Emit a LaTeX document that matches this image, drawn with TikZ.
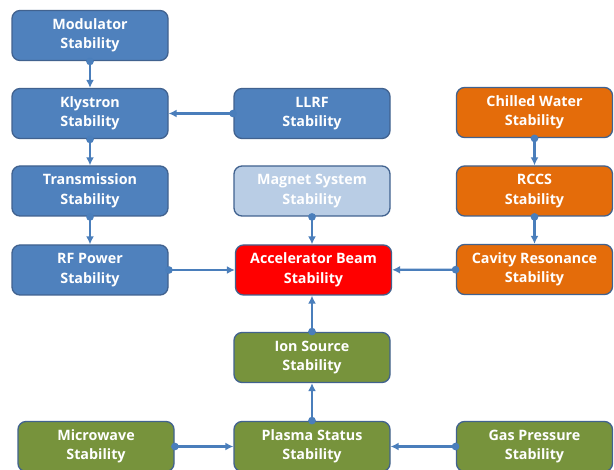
\documentclass[tikz,border=0pt]{standalone}
\usepackage{fontspec}
\setmainfont{Open Sans}
\usetikzlibrary{arrows.meta}
\definecolor{bfill}{HTML}{4F81BD}
\definecolor{lbfill}{HTML}{B9CDE5}
\definecolor{ofill}{HTML}{E46C0A}
\definecolor{gfill}{HTML}{77933C}
\definecolor{rfill}{HTML}{FF0000}
\definecolor{edge}{HTML}{41628F}
\definecolor{conn}{HTML}{4A7EBB}
\tikzset{
  boxnode/.style={draw=edge, line width=1.3pt, rounded corners=8pt, minimum width=156pt, minimum height=50pt, text=white, align=center, font=\bfseries\fontsize{14.3}{19.5}\selectfont, inner sep=0pt},
  bluebox/.style={boxnode, fill=bfill},
  lightbox/.style={boxnode, fill=lbfill},
  orangebox/.style={boxnode, fill=ofill},
  greenbox/.style={boxnode, fill=gfill},
  redbox/.style={boxnode, fill=rfill},
  link/.style={draw=conn, line width=2.3pt, {Circle[length=7.5pt]}-{Latex[length=8pt,width=8pt]}, shorten <=-3.5pt}
}
\begin{document}
\begin{tikzpicture}[x=1pt,y=-1pt]
\useasboundingbox (0,0) rectangle (614,470);
\fill[white] (0,0) rectangle (614,470);
\node[bluebox] (mod) at (90,35.5) {Modulator\\Stability};
\node[bluebox] (kly) at (90,113.5) {Klystron\\Stability};
\node[bluebox] (tra) at (90,191) {Transmission\\Stability};
\node[bluebox] (rfp) at (90,270) {RF Power\\Stability};
\node[bluebox] (llrf) at (312,113.5) {LLRF\\Stability};
\node[lightbox] (mag) at (312,191) {Magnet System\\Stability};
\node[redbox] (acc) at (313.5,270) {Accelerator Beam\\Stability};
\node[orangebox] (chw) at (534.5,112.5) {Chilled Water\\Stability};
\node[orangebox] (rccs) at (534.5,191) {RCCS\\Stability};
\node[orangebox] (cav) at (534.5,269.5) {Cavity Resonance\\Stability};
\node[greenbox] (ion) at (312,357.5) {Ion Source\\Stability};
\node[greenbox] (mic) at (96,446.5) {Microwave\\Stability};
\node[greenbox] (pla) at (312,446.5) {Plasma Status\\Stability};
\node[greenbox] (gas) at (534.5,446.5) {Gas Pressure\\Stability};
\draw[link] (mod) -- (kly);
\draw[link] (kly) -- (tra);
\draw[link] (tra) -- (rfp);
\draw[link] (llrf) -- (kly);
\draw[link] (mag) -- (mag |- acc.north);
\draw[link] (chw) -- (rccs);
\draw[link] (rccs) -- (cav);
\draw[link] (cav) -- (acc);
\draw[link] (rfp) -- (acc);
\draw[link] (ion.north) -- (ion.north |- acc.south);
\draw[link] (pla) -- (ion);
\draw[link] (mic) -- (pla);
\draw[link] (gas) -- (pla);
\end{tikzpicture}
\end{document}
